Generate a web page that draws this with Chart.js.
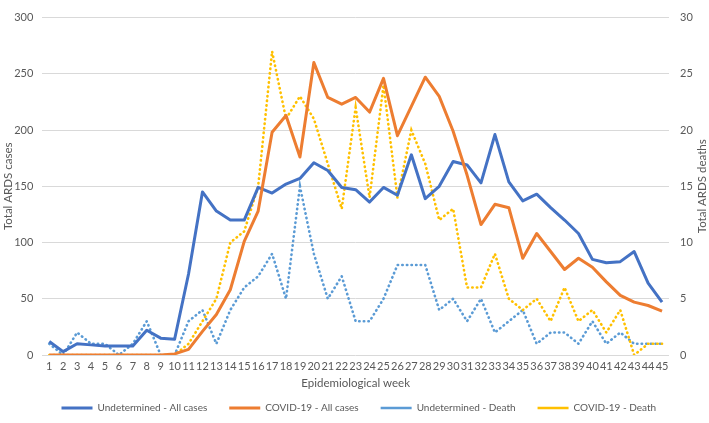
<!DOCTYPE html>
<html>
<head>
<meta charset="utf-8">
<script src="https://cdn.jsdelivr.net/npm/chart.js@4.4.1/dist/chart.umd.min.js"></script>
<style>
html,body{margin:0;padding:0;background:#fff;}
#wrap{width:709px;height:423px;position:relative;}
</style>
</head>
<body>
<div id="wrap"><canvas id="c" width="709" height="423"></canvas></div>
<script>
const weeks = ["1","2","3","4","5","6","7","8","9","10","11","12","13","14","15","16","17","18","19","20","21","22","23","24","25","26","27","28","29","30","31","32","33","34","35","36","37","38","39","40","41","42","43","44","45"];
const undeterminedAllCases = [12,3,10,9,8,8,8,22,15,14,72,145,128,120,120,149,144,152,157,171,164,149,147,136,149,142,178,139,150,172,169,153,196,154,137,143,131,120,108,85,82,83,92,64,47];
const covidAllCases = [0,0,0,0,0,0,0,0,0,1,5,21,36,58,101,128,198,213,176,260,229,223,229,216,246,195,221,247,230,199,160,116,134,131,86,108,92,76,86,78,65,53,47,44,39];
const undeterminedDeath = [1,0,2,1,1,0,1,3,0,0,3,4,1,4,6,7,9,5,15,9,5,7,3,3,5,8,8,8,4,5,3,5,2,3,4,1,2,2,1,3,1,2,1,1,1];
const covidDeath = [0,0,0,0,0,0,0,0,0,0,1,3,5,10,11,15,27,21,23,21,17,13,22,14,24,14,20,17,12,13,6,6,9,5,4,5,3,6,3,4,2,4,0,1,1];
const leftTicks = [0,50,100,150,200,250,300];
const rightTicks = [0,5,10,15,20,25,30];

const FONT = "Lato, 'Liberation Sans', sans-serif";
const TXT = "#595959";

const rightTitle = {
  id: 'rightTitle',
  afterDraw(chart) {
    const ctx = chart.ctx;
    const area = chart.chartArea;
    ctx.save();
    ctx.fillStyle = TXT;
    ctx.font = "11.5px " + FONT;
    ctx.textAlign = "center";
    ctx.textBaseline = "middle";
    ctx.translate(702, (area.top + area.bottom) / 2);
    ctx.rotate(-Math.PI / 2);
    ctx.fillText("Total ARDS deaths", 0, 0);
    ctx.restore();
  }
};

const legendShift = {
  id: 'legendShift',
  afterLayout(chart) {
    const lg = chart.legend;
    if (lg) { const w = lg.right - lg.left; lg.left = 39.5; lg.right = 39.5 + w; }
  }
};

const dotted = [0.4, 4.2];

new Chart(document.getElementById('c'), {
  type: 'line',
  data: {
    labels: weeks,
    datasets: [
      {label: "Undetermined - All cases", data: undeterminedAllCases, yAxisID: 'y', borderColor: "#4472C4", backgroundColor: "#4472C4", borderWidth: 3, pointRadius: 0, tension: 0, borderJoinStyle: 'round', order: 2},
      {label: "COVID-19 - All cases", data: covidAllCases, yAxisID: 'y', borderColor: "#ED7D31", backgroundColor: "#ED7D31", borderWidth: 3, pointRadius: 0, tension: 0, borderJoinStyle: 'round', order: 1},
      {label: "Undetermined - Death", data: undeterminedDeath, yAxisID: 'y1', borderColor: "#5B9BD5", backgroundColor: "#5B9BD5", borderWidth: 2.6, borderDash: dotted, borderCapStyle: 'round', pointRadius: 0, tension: 0, order: 4},
      {label: "COVID-19 - Death", data: covidDeath, yAxisID: 'y1', borderColor: "#FFC000", backgroundColor: "#FFC000", borderWidth: 2.6, borderDash: dotted, borderCapStyle: 'round', pointRadius: 0, tension: 0, order: 3}
    ]
  },
  options: {
    responsive: false,
    animation: false,
    devicePixelRatio: 1,
    layout: {padding: {top: 5, left: 0, right: 0, bottom: 0}},
    plugins: {
      tooltip: {enabled: false},
      legend: {
        position: 'bottom',
        align: 'start',
        labels: {
          usePointStyle: true,
          pointStyle: 'line',
          pointStyleWidth: 31,
          boxHeight: 3,
          boxWidth: 31,
          padding: 22,
          color: TXT,
          font: {family: FONT, size: 10},
          sort: (a, b) => a.datasetIndex - b.datasetIndex
        }
      }
    },
    scales: {
      x: {
        type: 'category',
        offset: true,
        grid: {display: false, drawTicks: false},
        border: {display: false},
        ticks: {color: TXT, font: {family: FONT, size: 11}, maxRotation: 0, autoSkip: false, padding: 5},
        title: {display: true, text: "Epidemiological week", color: TXT, font: {family: FONT, size: 11.5}, padding: {top: 0, bottom: -9}},
        afterFit(s) { s.height = 26; }
      },
      y: {
        position: 'left',
        min: 0, max: 300,
        afterBuildTicks(s) { s.ticks = leftTicks.map(v => ({value: v})); },
        grid: {color: "#d9d9d9", lineWidth: 1, drawTicks: false},
        border: {display: false},
        ticks: {color: TXT, font: {family: FONT, size: 11}, padding: 9},
        title: {display: true, text: "Total ARDS cases", color: TXT, font: {family: FONT, size: 11.5}, padding: {top: 1.5, bottom: 0}},
        afterFit(s) { s.width = 42.3; }
      },
      y1: {
        position: 'right',
        min: 0, max: 30,
        afterBuildTicks(s) { s.ticks = rightTicks.map(v => ({value: v})); },
        grid: {drawOnChartArea: false, drawTicks: false},
        border: {display: false},
        ticks: {color: TXT, font: {family: FONT, size: 11}, padding: 11},
        afterFit(s) { s.width = 40; }
      }
    }
  },
  plugins: [rightTitle, legendShift]
});
</script>
</body>
</html>
